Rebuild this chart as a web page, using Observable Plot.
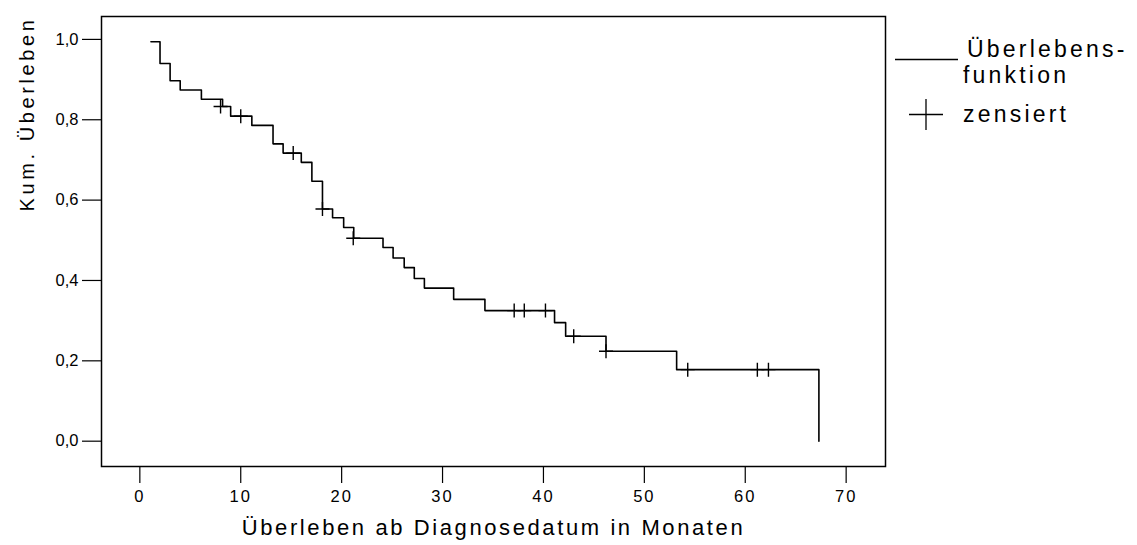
<!DOCTYPE html>
<html>
<head>
<meta charset="utf-8">
<script src="https://cdn.jsdelivr.net/npm/d3@7"></script>
<script src="https://cdn.jsdelivr.net/npm/@observablehq/plot@0.6"></script>
<style>
  html, body { margin: 0; padding: 0; background: #fff; }
  #chart { position: relative; width: 1137px; height: 545px; }
  svg { font-family: "Liberation Sans", Arial, sans-serif; }
  g[aria-label="x-axis tick label"] text { letter-spacing: 2px; font-size: 16.5px; }
  g[aria-label="y-axis tick label"] text { font-size: 16.5px; }
</style>
</head>
<body>
<div id="chart"></div>
<script>
// Kaplan-Meier step points (time in months, cumulative survival)
const stepTime = [1.1, 2.0, 3.0, 4.0, 6.1, 8.2, 9.0, 11.1, 13.2, 14.2, 16.0, 17.05, 18.1, 19.1, 20.2, 21.2, 24.1, 25.1, 26.2, 27.2, 28.2, 31.1, 34.2, 41.1, 42.2, 46.2, 53.2, 67.3];
const stepSurv = [0.994, 0.94, 0.897, 0.874, 0.851, 0.833, 0.809, 0.786, 0.740, 0.717, 0.694, 0.647, 0.578, 0.556, 0.532, 0.505, 0.482, 0.456, 0.432, 0.405, 0.381, 0.353, 0.325, 0.295, 0.261, 0.224, 0.178, 0.0];
// censored observations
const censorTime = [8.0, 10.0, 15.2, 18.1, 21.15, 37.1, 38.1, 40.2, 43.0, 46.2, 54.3, 61.2, 62.3];
const censorSurv = [0.833, 0.809, 0.717, 0.578, 0.505, 0.325, 0.325, 0.325, 0.261, 0.224, 0.178, 0.178, 0.178];
// axes
const xTicks = [0, 10, 20, 30, 40, 50, 60, 70];
const yTicks = [0, 0.2, 0.4, 0.6, 0.8, 1.0];
const xTitle = "Überleben ab Diagnosedatum in Monaten";
const yTitle = "Kum. Überleben";
const legendLine = ["Überlebens-", "funktion"];
const legendCensor = "zensiert";

const steps = stepTime.map((t, i) => ({t, s: stepSurv[i]}));
const censored = censorTime.map((t, i) => ({t, s: censorSurv[i]}));

const plusSym = {
  draw(ctx, size) {
    const r = Math.sqrt(size / Math.PI);
    ctx.moveTo(-r, 0); ctx.lineTo(r, 0);
    ctx.moveTo(0, -r); ctx.lineTo(0, r);
  }
};

const chart = Plot.plot({
  width: 1137,
  height: 545,
  marginLeft: 101,
  marginRight: 252,
  marginTop: 16,
  marginBottom: 79,
  x: {domain: [-3.8, 73.9]},
  y: {domain: [-0.063, 1.057]},
  style: {fontFamily: '"Liberation Sans", Arial, sans-serif', color: "#000", background: "#fff"},
  marks: [
    Plot.frame({stroke: "#000", strokeWidth: 1.5}),
    Plot.axisY({ticks: yTicks, tickFormat: d => d.toFixed(1).replace(".", ","), tickSize: 19, tickPadding: 4, fontSize: 16.5, label: null, strokeWidth: 1.2}),
    Plot.axisX({ticks: xTicks, tickFormat: d => String(d), tickSize: 17, tickPadding: 7, fontSize: 16.5, label: null, strokeWidth: 1.2}),
    Plot.line(steps, {x: "t", y: "s", curve: "step-after", stroke: "#000", strokeWidth: 1.6}),
    Plot.dot(censored, {x: "t", y: "s", symbol: plusSym, r: 7, stroke: "#000", fill: "none", strokeWidth: 1.4}),
    Plot.text([xTitle], {frameAnchor: "bottom", dy: 61, lineAnchor: "middle", fontSize: 22, fill: "#000", text: d => d}),
    Plot.text([yTitle], {frameAnchor: "top-left", dx: -74, dy: 0, rotate: -90, textAnchor: "end", lineAnchor: "middle", fontSize: 20, fill: "#000", text: d => d})
  ]
});

document.getElementById("chart").appendChild(chart);

const svg = d3.select(chart);
// letter spacing for titles
svg.selectAll("text").filter(function() { return this.textContent === yTitle; }).attr("letter-spacing", "3.6px");
svg.selectAll("text").filter(function() { return this.textContent === xTitle; }).attr("letter-spacing", "2.6px");

// legend
const lg = svg.append("g")
  .attr("font-family", '"Liberation Sans", Arial, sans-serif')
  .attr("font-size", 23).attr("fill", "#000").attr("text-anchor", "start");
lg.append("line").attr("x1", 895).attr("x2", 958).attr("y1", 59.5).attr("y2", 59.5).attr("stroke", "#000").attr("stroke-width", 1.5);
lg.append("text").attr("x", 967).attr("y", 57).attr("letter-spacing", "3.2px").text(legendLine[0]);
lg.append("text").attr("x", 963).attr("y", 83).attr("letter-spacing", "3.2px").text(legendLine[1]);
lg.append("line").attr("x1", 909).attr("x2", 943).attr("y1", 114.5).attr("y2", 114.5).attr("stroke", "#000").attr("stroke-width", 1.3);
lg.append("line").attr("x1", 926).attr("x2", 926).attr("y1", 99).attr("y2", 130).attr("stroke", "#000").attr("stroke-width", 1.3);
lg.append("text").attr("x", 963).attr("y", 122).attr("letter-spacing", "3.2px").text(legendCensor);
</script>
</body>
</html>
